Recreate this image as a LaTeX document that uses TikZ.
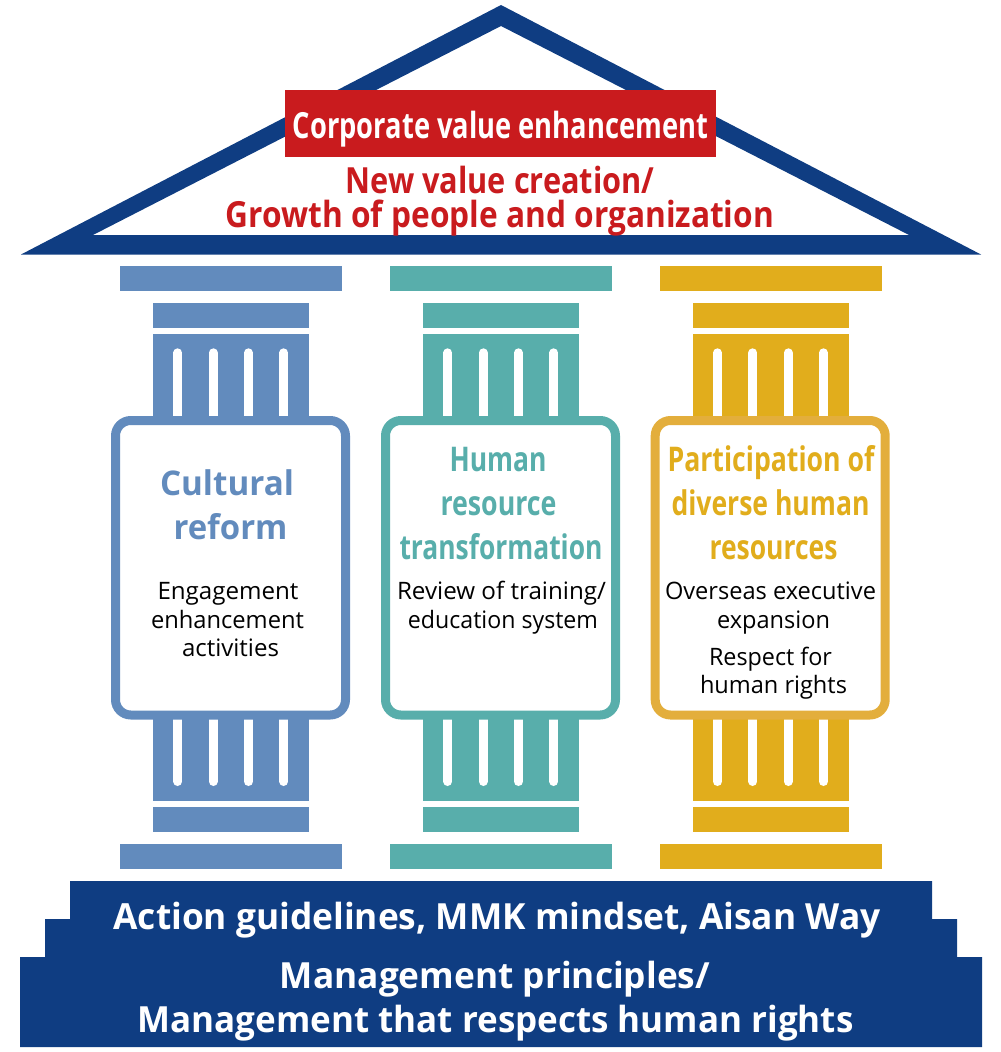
\documentclass[tikz,border=0pt]{standalone}
\usepackage{fontspec}
\usepackage{graphicx}
\setmainfont{Open Sans}
\definecolor{navy}{HTML}{0F3D82}
\definecolor{crimson}{HTML}{C91B1E}
\definecolor{pblue}{HTML}{628BBD}
\definecolor{pteal}{HTML}{58AEAB}
\definecolor{pgold}{HTML}{E1AD1C}
\definecolor{pgoldb}{HTML}{E3AE3C}
\newlength{\pxu}\setlength{\pxu}{0.75pt}
% name, centre x, baseline y, width px, colour, font, text
\newcommand{\lbl}[7]{\node[anchor=base,inner sep=0pt,text=#5,font=#6] (#1) at (#2,#3) {\resizebox{#4\pxu}{\height}{\strut #7}};}
\newcommand{\fbig}{\fontsize{27}{27}\selectfont\bfseries}
\newcommand{\fhead}{\fontsize{25.5}{25.5}\selectfont\bfseries}
\newcommand{\fbody}{\fontsize{18}{18}\selectfont}
\begin{document}
\begin{tikzpicture}[x=0.75pt,y=-0.75pt]
\useasboundingbox (0,0) rectangle (1000,1052);
% roof
\fill[navy,even odd rule] (501,5) -- (981,254.5) -- (21,254.5) -- cycle
  (501,26) -- (909,235) -- (93,235) -- cycle;
\fill[crimson] (285,90) rectangle (716,157);
% columns
\foreach \dx/\col/\bcol in {0/pblue/pblue,270/pteal/pteal,539.7/pgold/pgoldb}{
  \begin{scope}[shift={(\dx,0)}]
    \fill[\col] (120,266) rectangle (342,291);
    \fill[\col] (153,303) rectangle (309,328);
    \fill[\col] (153,334) rectangle (309,420);
    \fill[\col] (153,715) rectangle (309,801);
    \fill[\col] (153,807) rectangle (309,832);
    \fill[\col] (120,844) rectangle (342,869);
    \foreach \fx in {177.8,213.2,248.5,283.8}{
      \draw[white,line width=6.75pt,line cap=round] (\fx,352.8) -- (\fx,425);
      \draw[white,line width=6.75pt,line cap=round] (\fx,710) -- (\fx,781.5);
    }
    \draw[\bcol,fill=white,line width=6.75pt,rounded corners=11.5pt] (115.5,420.5) rectangle (345.5,715);
  \end{scope}
}
% steps
\fill[navy] (70,881) -- (932,881) -- (932,919) -- (957,919) -- (957,957) -- (982,957) -- (982,1047)
  -- (20,1047) -- (20,957) -- (45,957) -- (45,919) -- (70,919) -- cycle;
% texts
\lbl{t1}{500.5}{138.5}{415}{white}{\fbig}{Corporate value enhancement}
\lbl{t2}{500}{193}{309}{crimson}{\fbig}{New value creation/}
\lbl{t3}{500}{227}{548}{crimson}{\fbig}{Growth of people and organization}
\lbl{a1}{227}{495}{134}{pblue}{\fhead}{Cultural}
\lbl{a2}{230.5}{539}{114}{pblue}{\fhead}{reform}
\lbl{b1}{498}{471}{97}{pteal}{\fhead}{Human}
\lbl{b2}{498.5}{515}{116}{pteal}{\fhead}{resource}
\lbl{b3}{501}{559}{203}{pteal}{\fhead}{transformation}
\lbl{c1}{771}{471}{207}{pgold}{\fhead}{Participation of}
\lbl{c2}{770.5}{515}{198}{pgold}{\fhead}{diverse human}
\lbl{c3}{773.5}{559}{128}{pgold}{\fhead}{resources}
\lbl{a3}{228}{599}{141}{black}{\fbody}{Engagement}
\lbl{a4}{227.5}{628}{153}{black}{\fbody}{enhancement}
\lbl{a5}{230.5}{656}{97}{black}{\fbody}{activities}
\lbl{b4}{501.5}{599}{209}{black}{\fbody}{Review of training/}
\lbl{b5}{503}{628}{190}{black}{\fbody}{education system}
\lbl{c4}{770.5}{599}{211}{black}{\fbody}{Overseas executive}
\lbl{c5}{773.5}{628}{113}{black}{\fbody}{expansion}
\lbl{c6}{770.5}{665}{123}{black}{\fbody}{Respect for}
\lbl{c7}{773.5}{693}{147}{black}{\fbody}{human rights}
\lbl{s1}{497}{929}{767}{white}{\fbig}{Action guidelines, MMK mindset, Aisan Way}
\lbl{s2}{495}{988}{430}{white}{\fbig}{Management principles/}
\lbl{s3}{495.5}{1032}{716}{white}{\fbig}{Management that respects human rights}
\end{tikzpicture}
\end{document}
